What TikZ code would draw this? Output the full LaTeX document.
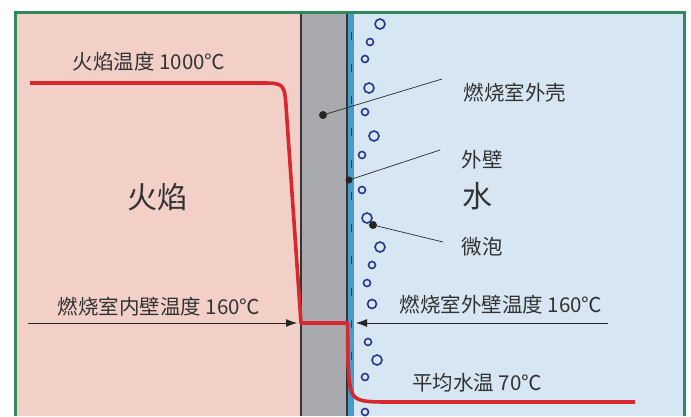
\documentclass[tikz,border=0pt]{standalone}
\usepackage{fontspec}
\setmainfont{Noto Sans CJK SC}
\usetikzlibrary{arrows.meta}
\definecolor{flamebg}{HTML}{F2D0C8}
\definecolor{waterbg}{HTML}{D6E6F2}
\definecolor{wallgray}{HTML}{A9AAAE}
\definecolor{stripblue}{HTML}{4A9BC7}
\definecolor{framegreen}{HTML}{2F8A5C}
\definecolor{curvered}{HTML}{D7282F}
\definecolor{bubblenavy}{HTML}{28368C}
\definecolor{txtgray}{HTML}{333333}
\tikzset{
  lbl/.style={text=txtgray, inner sep=0pt, font=\fontsize{20.5}{20.5}\selectfont},
  biglbl/.style={text=txtgray, inner sep=0pt, font=\fontsize{30}{30}\selectfont},
  bubble/.style={draw=bubblenavy, line width=1.6pt, fill=waterbg},
  leader/.style={draw=txtgray!80!black, line width=0.7pt},
  leaderdot/.style={fill=black!85},
  temparrow/.style={draw=black!85, line width=0.8pt, -{Latex[length=11pt,width=8pt]}},
  wallline/.style={draw=black!80, line width=1.6pt},
}
\begin{document}
\begin{tikzpicture}[x=1pt,y=-1pt]
\useasboundingbox (0,0) rectangle (691,416);
\fill[white] (0,0) rectangle (691,416);
% regions
\fill[flamebg] (15,12) rectangle (301,416);
\fill[wallgray] (301,12) rectangle (347,416);
\fill[stripblue] (347,12) rectangle (354,416);
\fill[waterbg] (354,12) rectangle (684,416);
\draw[wallline] (301,12) -- (301,416);
\draw[wallline] (347,12) -- (347,416);
\draw[black!75, line width=1.5pt, dash pattern=on 8pt off 24pt] (351.5,32) -- (351.5,416);
\draw[framegreen, line width=3pt] (15,416) -- (15,12) -- (684,12) -- (684,416);
% bubbles
\foreach \bx/\by/\br in {380/24/5, 370/42/3.5, 365/59/3.5, 369/88/5, 365/112/3.5,
  374/136/5, 362/155/3.5, 362/190/3.5, 367/218/5, 380/247/5, 372/265/3.5,
  367/283/3.5, 372/304/4.5, 368/342/3.5, 377/360/5, 365/377/3.5, 365/412/3.5}
  \draw[bubble] (\bx,\by) circle[radius=\br];
% temperature curve
\draw[curvered, line width=3.6pt, line join=round]
  (30,83) -- (260,83) .. controls (284.5,83) .. (286.3,110) -- (301,323)
  -- (347.5,323) -- (348,362) .. controls (350,402) .. (392,402) -- (635,402);
% labels
\node[lbl] (tflame) at (149,62) {火焰温度 1000℃};
\node[biglbl] (flame) at (157,197) {火焰};
\node[lbl] (tinner) at (159,307) {燃烧室内壁温度 160℃};
\node[lbl] (touter) at (501,305) {燃烧室外壁温度 160℃};
\node[lbl] (twater) at (477,383) {平均水温 70℃};
\node[lbl] (shell) at (515,93) {燃烧室外壳};
\node[lbl] (outwall) at (482,160) {外壁};
\node[biglbl] (water) at (477,196) {水};
\node[lbl] (micro) at (482,247) {微泡};
% leader lines
\coordinate (shelldot) at (323,115);
\coordinate (shellend) at (442,79);
\coordinate (walldot) at (349,180);
\coordinate (wallend) at (440,150);
\coordinate (bubdot) at (373,225);
\coordinate (bubend) at (443,242);
\draw[leader] (shelldot) -- (shellend);
\draw[leader] (walldot) -- (wallend);
\draw[leader] (bubdot) -- (bubend);
\fill[leaderdot] (shelldot) circle[radius=4];
\fill[leaderdot] (walldot) circle[radius=3.5];
\fill[leaderdot] (bubdot) circle[radius=4];
% arrows
\coordinate (inA) at (28,323);
\coordinate (inB) at (297,323);
\coordinate (outA) at (608,323);
\coordinate (outB) at (356,323);
\draw[temparrow] (inA) -- (inB);
\draw[temparrow] (outA) -- (outB);
\end{tikzpicture}
\end{document}
